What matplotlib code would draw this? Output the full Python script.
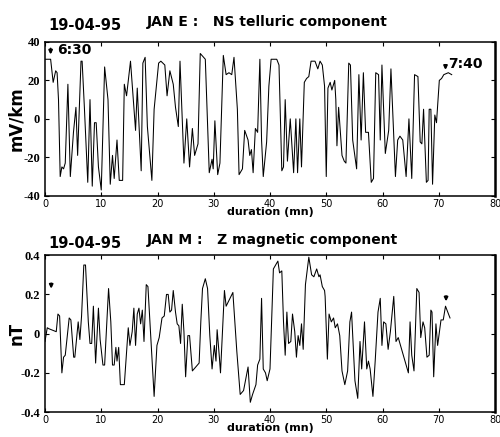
import numpy as np
import matplotlib.pyplot as plt

# JAN E : NS telluric component (mV/km) vs duration (mn)
t_e = [0, 1.0, 1.45, 1.9, 2.15, 2.4, 2.7, 3.0, 3.3, 3.6, 4.07, 4.5, 5.06, 5.5, 5.8, 6.4, 6.6,
       7.0, 7.6, 8.0, 8.4, 8.8, 9.1, 9.5, 10.0, 10.6, 11.2, 11.6, 12.0, 12.3, 12.8, 13.2,
       13.8, 14.1, 14.5, 15.2, 16.1, 16.4, 17.1, 17.4, 17.8, 18.2, 19.0, 19.4, 20.2, 20.6,
       21.3, 21.7, 22.2, 22.8, 23.2, 23.7, 24.0, 24.7, 25.2, 25.7, 26.2, 26.6, 27.2, 27.6,
       28.5, 29.2, 29.7, 29.9, 30.2, 30.7, 31.1, 31.7, 32.2, 32.7, 33.2, 33.6, 34.2, 34.5,
       35.1, 35.5, 36.1, 36.4, 36.7, 37.0, 37.4, 37.8, 38.2, 38.5, 38.8, 39.4, 39.8, 40.2,
       41.2, 41.6, 42.1, 42.4, 42.7, 43.1, 43.6, 43.9, 44.2, 44.6, 44.9, 45.3, 45.6, 46.1,
       46.5, 46.9, 47.3, 48.0, 48.5, 48.9, 49.3, 49.7, 50.0, 50.3, 50.7, 51.0, 51.5, 51.7,
       51.9, 52.2, 52.8, 53.2, 53.5, 54.0, 54.3, 54.7, 55.4, 55.8, 56.2, 56.6, 57.0, 57.5,
       58.0, 58.4, 58.8, 59.3, 59.6, 59.9, 60.5, 61.1, 61.5, 62.3, 62.7, 63.1, 63.6, 64.2,
       64.7, 65.2, 65.7, 66.3, 66.7, 67.0, 67.3, 67.8, 68.1, 68.3, 68.6, 68.9, 69.3, 69.6,
       70.1, 70.5, 70.9, 71.7, 72.3]
e_vals = [31, 31, 19, 25, 24, 10, -30, -25, -26, -23, 18, -30, -7, 6, -19, 30, 30,
          6, -33, 10, -35, -2, -2, -25, -37, 27, 10, -34, -19, -31, -11, -32,
          -32, 18, 12, 30, -6, 16, -27, 29, 32, -4, -32, 5, 29, 30,
          28, 12, 25, 18, 6, -4, 30, -23, 0, -25, -5, -19, -13, 34,
          31, -28, -21, -26, -1, -29, -23, 33, 23, 24, 23, 32, 5, -29,
          -26, -6, -11, -19, -16, -28, -5, -7, 31, -11, -30, -12, 17, 31,
          31, 28, -27, -25, 10, -22, 0, -14, -28, 0, -28, 0, -25, 19,
          21, 22, 30, 30, 26, 30, 28, 17, -30, 16, 19, 15, 20, 10,
          -14, 6, -19, -22, -23, 29, 28, -11, -26, 23, -11, 24, -7, -7,
          -33, -31, 24, 23, -11, 28, -18, -6, 26, -30, -11, -9, -11, -30,
          0, -31, 23, 22, -12, -13, 5, -33, -32, 5, 5, -34, 2, -2,
          20, 21, 23, 24, 23]

# JAN M : Z magnetic component (nT) vs duration (mn)
t_m = [0, 0.4, 0.7, 2.0, 2.3, 2.6, 3.0, 3.3, 3.6, 4.3, 4.6, 5.1, 5.3, 5.9, 6.2, 6.5, 6.9,
       7.2, 7.7, 8.0, 8.3, 8.6, 9.0, 9.5, 9.8, 10.3, 10.6, 11.3, 11.7, 12.0, 12.3, 12.6,
       12.8, 13.1, 13.4, 14.1, 14.8, 15.1, 15.5, 15.8, 16.1, 16.4, 16.7, 17.0, 17.3, 17.6,
       18.0, 18.3, 18.9, 19.4, 19.9, 20.3, 20.8, 21.2, 21.6, 21.9, 22.2, 22.5, 22.8, 23.2,
       23.5, 23.8, 24.1, 24.4, 24.7, 25.0, 25.4, 25.7, 26.2, 27.4, 27.7, 28.0, 28.5, 28.9,
       29.3, 29.7, 30.1, 30.4, 30.6, 31.0, 31.2, 31.9, 32.2, 33.4, 34.1, 34.7, 35.3, 36.1,
       36.5, 36.9, 37.5, 37.8, 38.2, 38.5, 38.8, 39.2, 39.5, 40.0, 40.6, 41.4, 41.7, 42.1,
       42.4, 42.7, 43.0, 43.3, 43.7, 44.0, 44.4, 44.7, 45.0, 45.3, 45.6, 45.9, 46.3, 46.9,
       47.4, 47.8, 48.3, 48.7, 48.9, 49.3, 49.7, 49.8, 50.2, 50.5, 50.9, 51.3, 51.6, 52.0,
       52.4, 52.8, 53.3, 53.8, 54.2, 54.5, 55.1, 55.6, 56.0, 56.3, 56.8, 57.2, 57.5, 57.8,
       58.3, 58.7, 59.2, 59.6, 59.9, 60.2, 60.6, 61.0, 61.4, 62.0, 62.4, 62.8, 63.7, 64.6,
       64.9, 65.2, 65.6, 66.1, 66.5, 66.8, 67.2, 67.5, 67.9, 68.3, 68.6, 68.8, 69.1, 69.5,
       69.8, 70.4, 70.8, 71.2, 72.0]
m_vals = [-0.04, 0.03, 0.025, 0.01, 0.10, 0.09, -0.20, -0.12, -0.11, 0.08, 0.07, -0.12, -0.12,
          0.06, -0.03, 0.09, 0.35, 0.35, 0.06, -0.05, -0.05, 0.14, -0.15, 0.13, -0.03, -0.16,
          -0.16, 0.23, 0.06, -0.16, -0.16, -0.07, -0.14, -0.07, -0.26, -0.26, 0.03, -0.06,
          0.01, 0.13, -0.06, 0.10, 0.13, 0.05, 0.12, -0.04, 0.25, 0.24, -0.07, -0.32, -0.06,
          -0.02, 0.08, 0.09, 0.20, 0.20, 0.11, 0.12, 0.22, 0.11, 0.05, 0.04, -0.05, 0.15,
          0.01, -0.22, -0.01, -0.01, -0.19, -0.15, 0.06, 0.23, 0.28, 0.23, -0.01, -0.18,
          -0.06, -0.14, 0.02, -0.12, -0.20, 0.22, 0.14, 0.21, -0.09, -0.31, -0.29, -0.17,
          -0.35, -0.31, -0.26, -0.16, -0.13, 0.18, -0.18, -0.20, -0.24, -0.18, 0.33, 0.37,
          0.31, 0.32, 0.06, -0.11, 0.11, -0.05, -0.04, 0.10, 0.01, -0.12, -0.01, -0.06,
          0.05, -0.08, 0.25, 0.39, 0.30, 0.29, 0.33, 0.29, 0.30, 0.24, 0.22, 0.19, -0.13,
          0.10, 0.06, 0.08, 0.03, 0.05, -0.01, -0.19, -0.26, -0.19, 0.06, 0.11, -0.24,
          -0.33, -0.04, -0.18, 0.06, -0.18, -0.14, -0.18, -0.32, -0.14, 0.11, 0.18, -0.06,
          0.06, 0.05, -0.08, 0.01, 0.19, -0.04, -0.02, -0.11, -0.20, 0.06, -0.11, -0.19,
          0.23, 0.21, -0.02, 0.06, 0.03, -0.12, -0.11, 0.12, 0.11, -0.22, 0.05, -0.06,
          0.07, 0.07, 0.14, 0.08]

fig = plt.figure(figsize=(5.0, 4.37), dpi=100)
ax1 = fig.add_axes([0.09, 0.552, 0.9, 0.352])
ax2 = fig.add_axes([0.09, 0.057, 0.9, 0.359])

serif_bold = {'family': 'Liberation Serif', 'weight': 'bold', 'size': 9}


def style_axis(ax, ylim, yticks, ylabels, ylabel, ylab_x):
    ax.set_xlim(0, 80)
    ax.set_ylim(*ylim)
    ax.set_xticks(range(0, 81, 10))
    ax.set_yticks(yticks)
    ax.set_yticklabels(ylabels, fontdict=serif_bold)
    ax.tick_params(axis='x', labelsize=7, pad=2)
    ax.tick_params(direction='in', top=True, right=True, length=3, width=0.8)
    for s in ['left', 'bottom', 'top']:
        ax.spines[s].set_linewidth(1.1)
    ax.spines['right'].set_linewidth(1.8)
    ax.set_xlabel('duration (mn)', fontsize=8, fontweight='bold', labelpad=-1)
    ax.set_ylabel(ylabel, fontsize=12, fontweight='bold')
    ax.yaxis.set_label_coords(ylab_x, 0.5)


def mark(ax, x, y0, y1):
    ax.annotate('', xy=(x, y1), xytext=(x, y0),
                arrowprops=dict(arrowstyle='-|>', color='black', lw=1.4, mutation_scale=5))


ax1.plot(t_e, e_vals, color='black', lw=0.75)
style_axis(ax1, (-40, 40), [-40, -20, 0, 20, 40], ['-40', '-20', '0', '20', '40'], 'mV/km', -0.044)
mark(ax1, 1.0, 38, 32)
ax1.text(2.1, 36, '6:30', fontsize=10, fontweight='bold', va='center')
mark(ax1, 71.2, 29.5, 24)
ax1.text(71.7, 28.5, '7:40', fontsize=10, fontweight='bold', va='center')

ax2.plot(t_m, m_vals, color='black', lw=0.75)
style_axis(ax2, (-0.4, 0.4), [-0.4, -0.2, 0, 0.2, 0.4], ['-0.4', '-0.2', '0', '0.2', '0.4'], 'nT', -0.042)
mark(ax2, 1.1, 0.27, 0.215)
mark(ax2, 71.3, 0.205, 0.15)

fig.text(0.096, 1 - 25 / 437, '19-04-95', fontsize=10.5, fontweight='bold', va='center')
fig.text(0.294, 1 - 22 / 437, 'JAN E :   NS telluric component', fontsize=10, fontweight='bold', va='center')
fig.text(0.096, 1 - 243 / 437, '19-04-95', fontsize=10.5, fontweight='bold', va='center')
fig.text(0.294, 1 - 240 / 437, 'JAN M :   Z magnetic component', fontsize=10, fontweight='bold', va='center')

fig.savefig('out.png', dpi=100)
